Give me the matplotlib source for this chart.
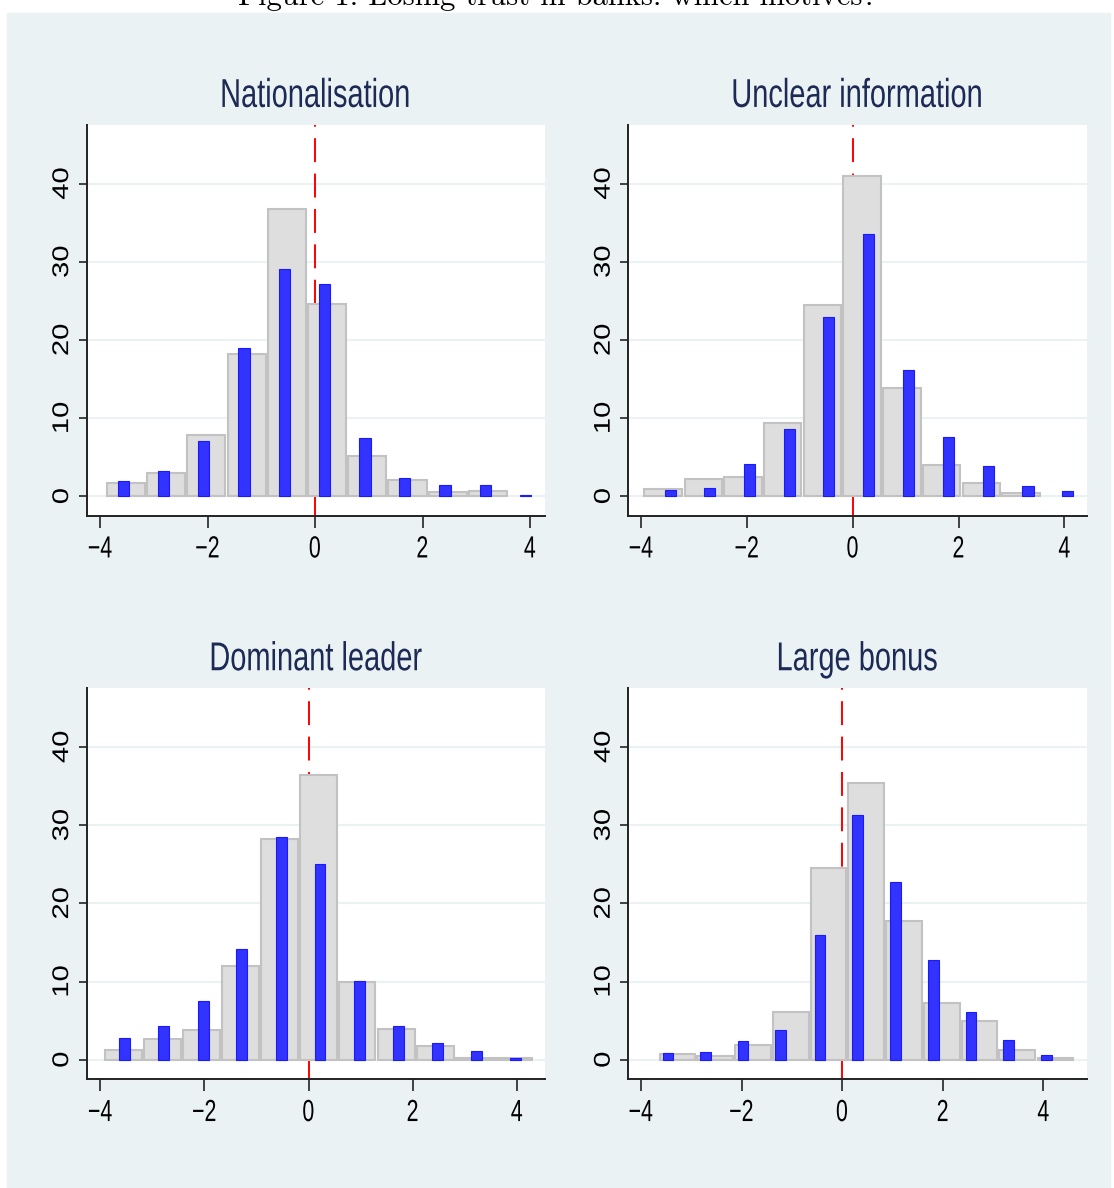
import numpy as np
import matplotlib
matplotlib.use('Agg')
from matplotlib import pyplot as plt
from matplotlib.patches import Rectangle
from matplotlib.patheffects import AbstractPathEffect
from matplotlib.transforms import Affine2D

# panel titles
titles = ['Nationalisation', 'Unclear information', 'Dominant leader', 'Large bonus']

# grey histogram (bin midpoints, percent)
grey_x_nat = [-3.52, -2.775, -2.025, -1.27, -0.52, 0.23, 0.97, 1.72, 2.47, 3.22]
grey_y_nat = [1.7, 3.0, 7.85, 18.2, 36.8, 24.6, 5.2, 2.1, 0.5, 0.7]
grey_x_unc = [-3.58, -2.82, -2.07, -1.33, -0.57, 0.18, 0.93, 1.68, 2.43, 3.18]
grey_y_unc = [0.9, 2.2, 2.4, 9.4, 24.5, 41.0, 13.9, 4.05, 1.7, 0.4]
grey_x_dom = [-3.56, -2.81, -2.06, -1.31, -0.56, 0.19, 0.93, 1.69, 2.44, 3.18, 3.94]
grey_y_dom = [1.2, 2.7, 3.85, 12.0, 28.2, 36.4, 9.9, 3.9, 1.75, 0.2, 0.2]
grey_x_bon = [-3.27, -2.52, -1.77, -1.02, -0.27, 0.48, 1.23, 1.98, 2.73, 3.48, 4.24]
grey_y_bon = [0.77, 0.47, 1.9, 6.1, 24.5, 35.4, 17.7, 7.2, 4.9, 1.3, 0.2]

# blue histogram (bin midpoints, percent)
blue_x_nat = [-3.57, -2.82, -2.07, -1.32, -0.57, 0.17, 0.93, 1.67, 2.42, 3.17, 3.92]
blue_y_nat = [2.0, 3.2, 7.1, 19.0, 29.1, 27.2, 7.5, 2.3, 1.4, 1.4, 0.2]
blue_x_unc = [-3.45, -2.70, -1.95, -1.20, -0.45, 0.30, 1.06, 1.81, 2.56, 3.31, 4.06]
blue_y_unc = [0.85, 1.0, 4.1, 8.6, 22.9, 33.5, 16.1, 7.6, 3.9, 1.3, 0.6]
blue_x_dom = [-3.53, -2.78, -2.02, -1.28, -0.52, 0.22, 0.97, 1.73, 2.48, 3.23, 3.98]
blue_y_dom = [2.8, 4.3, 7.5, 14.2, 28.5, 25.05, 10.1, 4.3, 2.2, 1.15, 0.2]
blue_x_bon = [-3.46, -2.72, -1.97, -1.22, -0.44, 0.31, 1.06, 1.81, 2.56, 3.31, 4.06]
blue_y_bon = [0.8, 1.0, 2.4, 3.85, 16.0, 31.3, 22.75, 12.7, 6.15, 2.5, 0.6]

xticks = [-4, -2, 0, 2, 4]
yticks = [0, 10, 20, 30, 40]


# squeeze text horizontally about its centre (stata-like narrow look)
class Squeeze(AbstractPathEffect):
    def __init__(self, sx):
        super().__init__()
        self.sx = sx

    def draw_path(self, renderer, gc, tpath, affine, rgbFace=None):
        v = tpath.vertices
        if len(v):
            d = affine.transform(v)
            cx = 0.5 * (d[:, 0].min() + d[:, 0].max())
            affine = affine + Affine2D().translate(-cx, 0).scale(self.sx, 1).translate(cx, 0)
        renderer.draw_path(gc, tpath, affine, rgbFace)


W, H = 1114, 1188
fig = plt.figure(figsize=(W / 100, H / 100), dpi=100)
fig.patch.set_facecolor('white')

bg = '#eaf2f3'
fig.patches.append(Rectangle((7 / W, 0), (1110 - 7) / W, 1 - 13 / H,
                             transform=fig.transFigure, color=bg, zorder=-10))

fig.text(0.5, 1 - 5 / H, 'Figure 1: Losing trust in banks: which motives?',
         ha='center', va='baseline', fontsize=22, family=['cmr10', 'DejaVu Serif'])

sans = ['Liberation Sans', 'DejaVu Sans']


def px_axes(l, t, r, b):
    return fig.add_axes([l / W, 1 - b / H, (r - l) / W, (b - t) / H])


def panel(ax, title, gx, gy, bx, by, xlim):
    ax.set_facecolor('white')
    for y in yticks:
        ax.axhline(y, color=bg, lw=1.5, zorder=1)
    ax.plot([0, 0], [-2.5, 47.5], color='red', lw=1.4, dashes=(12.3, 5.9), zorder=1.5)
    ax.bar(gx, gy, width=0.71, color='#dedede', edgecolor='#c2c2c2', linewidth=1.5, zorder=2)
    ax.bar(bx, by, width=0.21, color='#3333ff', edgecolor='#1a1aff', linewidth=0.8, zorder=3)
    ax.set_xlim(*xlim)
    ax.set_ylim(-2.5, 47.5)
    ax.set_xticks(xticks)
    ax.set_yticks(yticks)
    xl = ax.set_xticklabels(['\u22124', '\u22122', '0', '2', '4'], family=sans, fontsize=22)
    yl = ax.set_yticklabels([str(v) for v in yticks], rotation=90, va='center',
                            family=sans, fontsize=21)
    for t in xl:
        t.set_path_effects([Squeeze(0.7)])
    for t in yl:
        t.set_path_effects([Squeeze(0.78)])
    ax.tick_params(axis='x', length=8.5, width=1.3, pad=5, color='#333333')
    ax.tick_params(axis='y', length=6, width=1.3, pad=1.5, color='#333333')
    for s in ['top', 'right']:
        ax.spines[s].set_visible(False)
    for s in ['left', 'bottom']:
        ax.spines[s].set_linewidth(1.4)
        ax.spines[s].set_color('#222222')
    tt = ax.set_title(title, family=sans, fontsize=29, color='#1c2a55', pad=13)
    tt.set_path_effects([Squeeze(0.72)])


ax1 = px_axes(86.7, 125, 545, 515.7)
ax2 = px_axes(628.3, 125, 1086.7, 515.7)
ax3 = px_axes(86.7, 688.3, 545, 1079.3)
ax4 = px_axes(628.3, 688.3, 1086.7, 1079.3)

panel(ax1, titles[0], grey_x_nat, grey_y_nat, blue_x_nat, blue_y_nat, (-4.25, 4.28))
panel(ax2, titles[1], grey_x_unc, grey_y_unc, blue_x_unc, blue_y_unc, (-4.24, 4.42))
panel(ax3, titles[2], grey_x_dom, grey_y_dom, blue_x_dom, blue_y_dom, (-4.26, 4.54))
panel(ax4, titles[3], grey_x_bon, grey_y_bon, blue_x_bon, blue_y_bon, (-4.25, 4.86))

plt.savefig('out.png', dpi=100)
